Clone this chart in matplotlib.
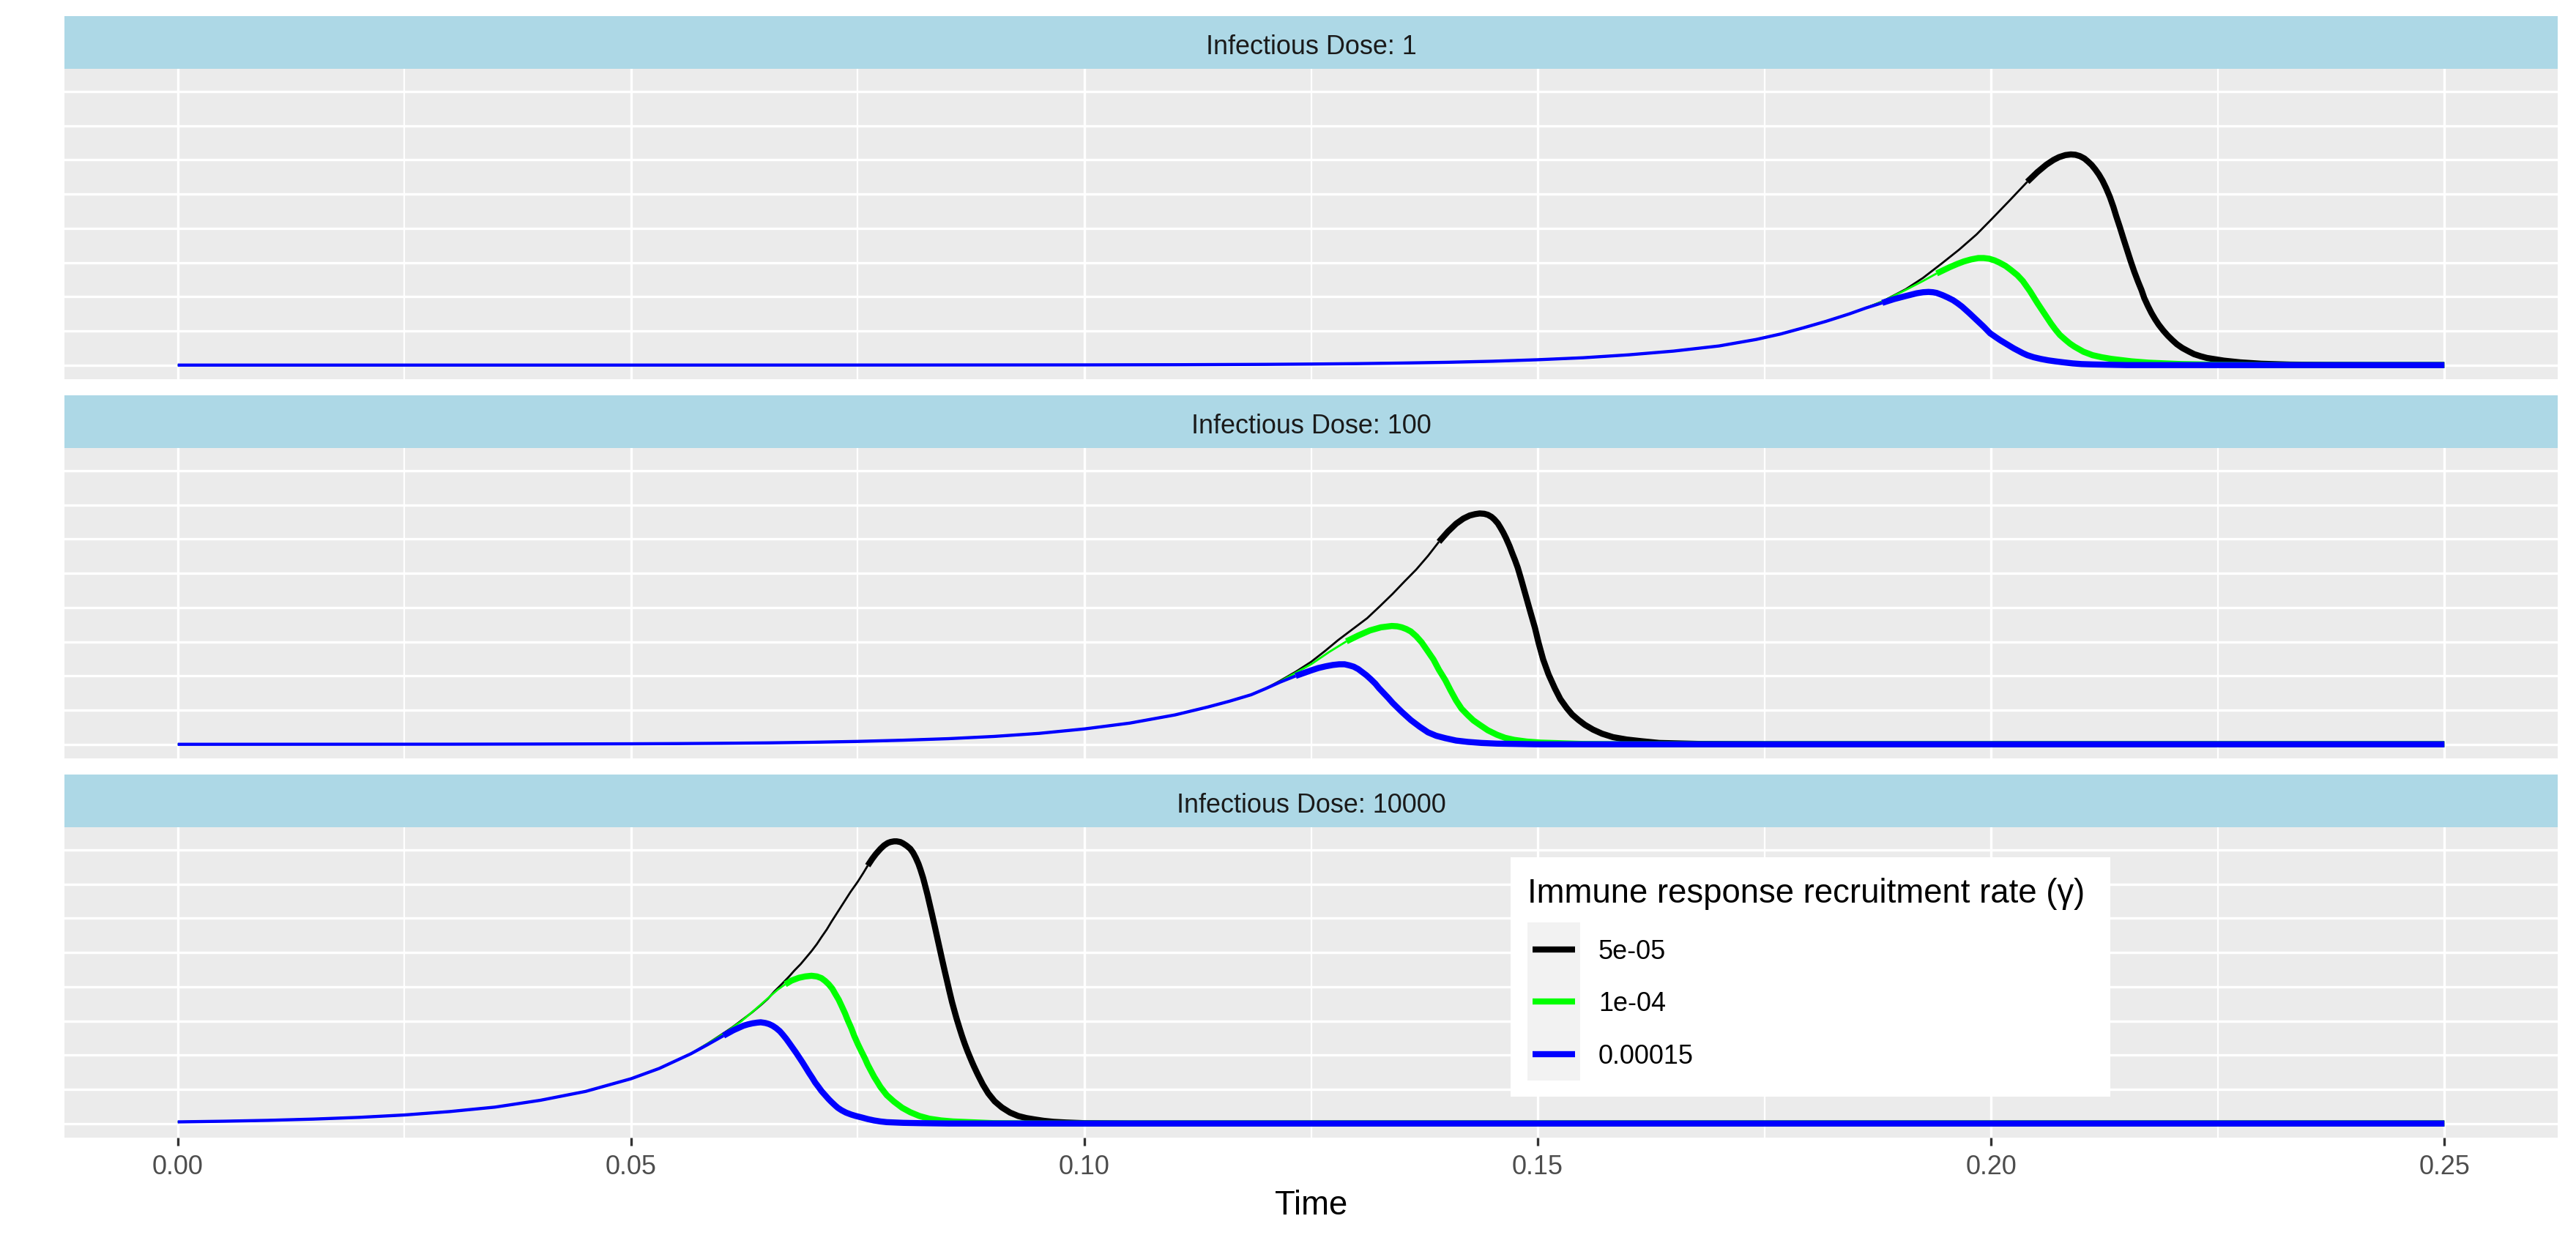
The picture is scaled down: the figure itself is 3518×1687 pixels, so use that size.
import matplotlib
matplotlib.use("Agg")
import matplotlib.pyplot as plt
from matplotlib.patches import Rectangle
from matplotlib.lines import Line2D

plt.rcParams['font.family'] = ['Liberation Sans', 'DejaVu Sans']

# ---------------- data ----------------
doses = ["1", "100", "10000"]
gamma_labels = ["5e-05", "1e-04", "0.00015"]
series_colors = ["#000000", "#00FF00", "#0000FF"]

x_ticks = [0.00, 0.05, 0.10, 0.15, 0.20, 0.25]
x_tick_labels = ["0.00", "0.05", "0.10", "0.15", "0.20", "0.25"]

# ---- Infectious dose 1 ----
dose1_early_t = [0.0, 0.05, 0.08, 0.10, 0.11, 0.12, 0.125, 0.13, 0.135, 0.14, 0.145, 0.15, 0.155, 0.16,
                 0.165, 0.17, 0.1741, 0.1768, 0.1793, 0.1818, 0.1844, 0.1862]
dose1_early_y = [0.0, 0.0005, 0.002, 0.006, 0.011, 0.022, 0.031, 0.043, 0.060, 0.082, 0.113, 0.157, 0.215, 0.30,
                 0.41, 0.56, 0.75, 0.91, 1.09, 1.28, 1.50, 1.67]

dose1_black_t = dose1_early_t + [0.188, 0.1906, 0.1925, 0.1947, 0.1965, 0.1984, 0.2, 0.202, 0.204, 0.2051, 0.2061,
                                 0.2069, 0.2075, 0.2082, 0.2088, 0.2093, 0.2098, 0.2103, 0.2107, 0.2111, 0.2115,
                                 0.2119, 0.2123, 0.2127, 0.2131, 0.2135, 0.2138, 0.2142, 0.2146, 0.215, 0.2154,
                                 0.2158, 0.2162, 0.2166, 0.2169, 0.2173, 0.2177, 0.2181, 0.2185, 0.219, 0.2195,
                                 0.22, 0.2205, 0.2211, 0.2218, 0.2224, 0.2231, 0.2238, 0.2245, 0.2257,
                                 0.2275, 0.2298, 0.233, 0.237, 0.242, 0.25]
dose1_black_y = dose1_early_y + [1.86, 2.22, 2.55, 3.00, 3.38, 3.82, 4.25, 4.80, 5.36, 5.64, 5.86,
                                 6.00, 6.08, 6.14, 6.16, 6.15, 6.11, 6.04, 5.95, 5.85, 5.72,
                                 5.57, 5.39, 5.17, 4.92, 4.62, 4.36, 4.04, 3.70, 3.37, 3.04,
                                 2.73, 2.45, 2.19, 1.96, 1.73, 1.52, 1.34, 1.18, 1.01, 0.86,
                                 0.73, 0.61, 0.50, 0.40, 0.32, 0.26, 0.21, 0.18, 0.13,
                                 0.08, 0.04, 0.015, 0.005, 0.0, 0.0]

dose1_green_t = dose1_early_t + [0.188, 0.1906, 0.1925, 0.194, 0.1955, 0.1963, 0.197, 0.1978, 0.1986, 0.1992,
                                 0.1998, 0.2004, 0.2009, 0.2016, 0.2022, 0.2029, 0.2035, 0.2043, 0.2051, 0.2056,
                                 0.2061, 0.2066, 0.2071, 0.2076, 0.2082, 0.2087, 0.2092, 0.2102, 0.2112, 0.2122,
                                 0.2133, 0.2155, 0.2174, 0.221, 0.225, 0.23, 0.25]
dose1_green_y = dose1_early_y + [1.86, 2.20, 2.46, 2.68, 2.87, 2.96, 3.03, 3.09, 3.13, 3.13,
                                 3.11, 3.06, 3.00, 2.90, 2.78, 2.63, 2.46, 2.16, 1.82, 1.62,
                                 1.42, 1.22, 1.04, 0.88, 0.74, 0.63, 0.54, 0.39, 0.29, 0.23,
                                 0.18, 0.11, 0.07, 0.03, 0.01, 0.0, 0.0]

dose1_blue_t = dose1_early_t + [0.188, 0.1893, 0.1906, 0.1918, 0.1925, 0.1931, 0.1936, 0.1940, 0.1947, 0.1952,
                                0.1958, 0.1963, 0.1968, 0.1976, 0.1984, 0.1992, 0.1999, 0.2005, 0.201, 0.2015,
                                0.202, 0.2025, 0.203, 0.2035, 0.204, 0.2047, 0.2055, 0.2063, 0.2071, 0.208,
                                0.209, 0.21, 0.2112, 0.215, 0.25]
dose1_blue_y = dose1_early_y + [1.82, 1.93, 2.02, 2.10, 2.13, 2.14, 2.13, 2.11, 2.04, 1.98,
                                1.90, 1.81, 1.71, 1.52, 1.32, 1.12, 0.93, 0.82, 0.73, 0.65,
                                0.57, 0.49, 0.42, 0.35, 0.29, 0.23, 0.18, 0.14, 0.11, 0.08,
                                0.05, 0.03, 0.02, 0.0, 0.0]

dose1_thick_from = [0.204, 0.194, 0.188]

# ---- Infectious dose 100 ----
dose100_early_t = [0.0, 0.03, 0.04, 0.05, 0.055, 0.06, 0.065, 0.07, 0.075, 0.08, 0.085, 0.09, 0.095, 0.10,
                   0.105, 0.11, 0.1136, 0.116, 0.1184, 0.12]
dose100_early_y = [0.0, 0.003, 0.008, 0.015, 0.021, 0.03, 0.042, 0.06, 0.085, 0.12, 0.165, 0.23, 0.32, 0.45,
                   0.62, 0.86, 1.09, 1.26, 1.45, 1.63]

dose100_black_t = dose100_early_t + [0.1216, 0.1233, 0.125, 0.1265, 0.128, 0.1296, 0.1312, 0.1326, 0.134, 0.1353,
                                     0.1366, 0.1379, 0.1391, 0.1401, 0.141, 0.1418, 0.1425, 0.1431, 0.1436, 0.1441,
                                     0.1445, 0.1449, 0.1452, 0.1456, 0.1459, 0.1462, 0.1465, 0.1469, 0.1472, 0.1475,
                                     0.1478, 0.1482, 0.1487, 0.1492, 0.1497, 0.1501, 0.1506, 0.1512, 0.1519, 0.1525,
                                     0.1532, 0.1538, 0.1545, 0.1552, 0.1561, 0.1571, 0.1583, 0.1598, 0.1615, 0.1634,
                                     0.168, 0.175, 0.25]
dose100_black_y = dose100_early_y + [1.86, 2.12, 2.41, 2.72, 3.05, 3.37, 3.69, 4.04, 4.40, 4.76,
                                     5.11, 5.51, 5.92, 6.22, 6.45, 6.60, 6.69, 6.73, 6.75, 6.74,
                                     6.71, 6.65, 6.58, 6.46, 6.33, 6.19, 6.03, 5.79, 5.58, 5.38,
                                     5.16, 4.80, 4.33, 3.86, 3.40, 2.96, 2.48, 2.04, 1.63, 1.32,
                                     1.06, 0.87, 0.71, 0.57, 0.43, 0.31, 0.21, 0.14, 0.09, 0.04,
                                     0.01, 0.0, 0.0]

dose100_green_t = dose100_early_t + [0.1216, 0.1233, 0.125, 0.127, 0.1289, 0.1302, 0.1315, 0.1327, 0.1339, 0.1345,
                                     0.135, 0.1355, 0.136, 0.1366, 0.1372, 0.1378, 0.1385, 0.1391, 0.1398, 0.1404,
                                     0.141, 0.1416, 0.1423, 0.1429, 0.1436, 0.1445, 0.1455, 0.1464, 0.1474, 0.1488,
                                     0.1503, 0.155, 0.16, 0.25]
dose100_green_y = dose100_early_y + [1.84, 2.09, 2.34, 2.70, 3.01, 3.18, 3.33, 3.42, 3.46, 3.45,
                                     3.42, 3.37, 3.30, 3.16, 2.98, 2.75, 2.48, 2.18, 1.88, 1.57,
                                     1.28, 1.04, 0.85, 0.70, 0.57, 0.41, 0.28, 0.19, 0.13, 0.08,
                                     0.05, 0.01, 0.0, 0.0]

dose100_blue_t = dose100_early_t + [0.1216, 0.1233, 0.125, 0.1258, 0.1266, 0.1274, 0.1281, 0.1287, 0.1292, 0.1297,
                                    0.1302, 0.1306, 0.1311, 0.1316, 0.1321, 0.1325, 0.133, 0.1335, 0.134, 0.1345,
                                    0.135, 0.1355, 0.136, 0.1365, 0.137, 0.1379, 0.1388, 0.1398, 0.141, 0.1423,
                                    0.1438, 0.1455, 0.15, 0.25]
dose100_blue_y = dose100_early_y + [1.82, 2.00, 2.16, 2.23, 2.28, 2.32, 2.34, 2.34, 2.31, 2.27,
                                    2.20, 2.12, 2.02, 1.90, 1.77, 1.64, 1.50, 1.36, 1.21, 1.08,
                                    0.95, 0.83, 0.71, 0.61, 0.51, 0.35, 0.25, 0.18, 0.11, 0.07,
                                    0.04, 0.02, 0.0, 0.0]

dose100_thick_from = [0.1391, 0.1289, 0.1233]

# ---- Infectious dose 10000 ----
dose10000_early_t = [0.0, 0.005, 0.01, 0.015, 0.02, 0.025, 0.03, 0.035, 0.04, 0.045, 0.05, 0.0531, 0.0566]
dose10000_early_y = [0.048, 0.067, 0.093, 0.13, 0.18, 0.25, 0.35, 0.48, 0.68, 0.94, 1.31, 1.61, 2.04]

dose10000_black_t = dose10000_early_t + [0.0584, 0.0602, 0.0612, 0.0622, 0.0633, 0.0643, 0.0651, 0.0658, 0.0666, 0.0674,
                                         0.068, 0.0687, 0.0693, 0.0699, 0.0705, 0.071, 0.0716, 0.0721, 0.0728, 0.0735,
                                         0.0742, 0.075, 0.0756, 0.0761, 0.0766, 0.077, 0.0775, 0.0779, 0.0783, 0.0786,
                                         0.079, 0.0793, 0.0797, 0.08, 0.0804, 0.0808, 0.0811, 0.0814, 0.0817, 0.0819,
                                         0.0822, 0.0824, 0.0827, 0.0829, 0.0832, 0.0835, 0.0837, 0.084, 0.0843, 0.0846,
                                         0.0849, 0.0851, 0.0854, 0.0857, 0.0859, 0.0862, 0.0865, 0.0868, 0.0871, 0.0873,
                                         0.0876, 0.0878, 0.0881, 0.0883, 0.0888, 0.0894, 0.0901, 0.0909, 0.0918, 0.0927,
                                         0.0936, 0.0945, 0.0955, 0.0966, 0.098, 0.1, 0.105, 0.25]
dose10000_black_y = dose10000_early_y + [2.33, 2.64, 2.82, 3.02, 3.24, 3.46, 3.65, 3.86, 4.07, 4.29,
                                         4.47, 4.66, 4.85, 5.04, 5.25, 5.45, 5.68, 5.90, 6.19, 6.48,
                                         6.77, 7.07, 7.32, 7.54, 7.74, 7.88, 8.03, 8.13, 8.20, 8.23,
                                         8.25, 8.25, 8.23, 8.19, 8.12, 8.03, 7.92, 7.77, 7.59, 7.44,
                                         7.19, 6.99, 6.68, 6.45, 6.11, 5.76, 5.52, 5.16, 4.80, 4.45,
                                         4.11, 3.88, 3.55, 3.26, 3.07, 2.81, 2.56, 2.33, 2.12, 1.99,
                                         1.80, 1.68, 1.51, 1.40, 1.14, 0.88, 0.65, 0.47, 0.32, 0.22,
                                         0.16, 0.12, 0.08, 0.05, 0.03, 0.01, 0.0, 0.0]

dose10000_green_t = dose10000_early_t + [0.0584, 0.0602, 0.0612, 0.0622, 0.063, 0.0638, 0.0647, 0.0655, 0.0662, 0.067,
                                         0.0677, 0.0685, 0.0692, 0.0699, 0.0705, 0.071, 0.0714, 0.0718, 0.0722, 0.0725,
                                         0.0729, 0.0732, 0.0736, 0.0739, 0.0743, 0.0746, 0.075, 0.0754, 0.0758, 0.0761,
                                         0.0765, 0.0768, 0.0772, 0.0775, 0.0782, 0.079, 0.0799, 0.0808, 0.0818, 0.0829,
                                         0.0842, 0.0855, 0.09, 0.095, 0.25]
dose10000_green_y = dose10000_early_y + [2.33, 2.62, 2.81, 3.00, 3.18, 3.36, 3.57, 3.76, 3.92, 4.07,
                                         4.18, 4.26, 4.30, 4.32, 4.30, 4.25, 4.17, 4.07, 3.94, 3.80,
                                         3.62, 3.45, 3.22, 3.02, 2.78, 2.57, 2.33, 2.11, 1.90, 1.72,
                                         1.52, 1.37, 1.20, 1.07, 0.83, 0.64, 0.46, 0.33, 0.22, 0.14,
                                         0.09, 0.06, 0.01, 0.0, 0.0]

dose10000_blue_t = dose10000_early_t + [0.0584, 0.0602, 0.0613, 0.0624, 0.0629, 0.0634, 0.0639, 0.0643, 0.0648, 0.0652,
                                        0.0656, 0.066, 0.0664, 0.0667, 0.0671, 0.0674, 0.0678, 0.0682, 0.0686, 0.0689,
                                        0.0693, 0.0696, 0.07, 0.0703, 0.0707, 0.071, 0.0714, 0.0718, 0.0721, 0.0725,
                                        0.0728, 0.0732, 0.0737, 0.0743, 0.0748, 0.0754, 0.0761, 0.0768, 0.0775, 0.0782,
                                        0.08, 0.082, 0.085, 0.25]
dose10000_blue_y = dose10000_early_y + [2.30, 2.57, 2.73, 2.86, 2.90, 2.93, 2.95, 2.96, 2.94, 2.91,
                                        2.86, 2.79, 2.70, 2.61, 2.48, 2.37, 2.22, 2.07, 1.91, 1.79,
                                        1.62, 1.49, 1.33, 1.20, 1.06, 0.95, 0.83, 0.71, 0.63, 0.53,
                                        0.46, 0.39, 0.32, 0.26, 0.22, 0.18, 0.13, 0.09, 0.06, 0.04,
                                        0.02, 0.01, 0.0, 0.0]

dose10000_thick_from = [0.0761, 0.067, 0.0602]

panels = [
    (doses[0], [(dose1_black_t, dose1_black_y), (dose1_green_t, dose1_green_y), (dose1_blue_t, dose1_blue_y)], dose1_thick_from),
    (doses[1], [(dose100_black_t, dose100_black_y), (dose100_green_t, dose100_green_y), (dose100_blue_t, dose100_blue_y)], dose100_thick_from),
    (doses[2], [(dose10000_black_t, dose10000_black_y), (dose10000_green_t, dose10000_green_y), (dose10000_blue_t, dose10000_blue_y)], dose10000_thick_from),
]

# ---------------- styling / layout ----------------
W, H = 3518, 1687
DPI = 200
PANEL_BG = "#EBEBEB"
STRIP_BG = "#ADD8E6"
thin_lw = [1.0, 1.0, 1.55]
thick_lw = 3.0
FS_SMALL = 12.96
FS_BIG = 16.4

fig = plt.figure(figsize=(W / DPI, H / DPI), dpi=DPI)
fig.patch.set_facecolor("white")


def fx(px):
    return px / W


def fy(py):
    return 1 - py / H


left_px, right_px = 88, 3493
strip_h, panel_h, gap = 72, 424, 22
y_max_data = max(dose10000_black_y)
ylim = (-0.05 * y_max_data, 1.05 * y_max_data)

top = 22
axes = []
for i, (dose, series, thick_from) in enumerate(panels):
    strip_top = top
    panel_top = strip_top + strip_h
    panel_bot = panel_top + panel_h
    # strip
    sax = fig.add_axes([fx(left_px), fy(panel_top), (right_px - left_px) / W, strip_h / H])
    sax.set_facecolor(STRIP_BG)
    sax.set_xticks([])
    sax.set_yticks([])
    for s in sax.spines.values():
        s.set_visible(False)
    fig.text(fx((left_px + right_px) / 2), fy(strip_top + 51.6), f"Infectious Dose: {dose}",
             ha="center", va="baseline", fontsize=FS_SMALL, color="#1A1A1A")
    # panel
    ax = fig.add_axes([fx(left_px), fy(panel_bot), (right_px - left_px) / W, panel_h / H])
    ax.set_facecolor(PANEL_BG)
    for s in ax.spines.values():
        s.set_visible(False)
    ax.set_xlim(-0.0125, 0.2625)
    ax.set_ylim(*ylim)
    ax.set_xticks(x_ticks)
    ax.set_xticks([0.025, 0.075, 0.125, 0.175, 0.225], minor=True)
    ax.set_yticks(list(range(0, 9)))
    ax.set_yticklabels([])
    ax.tick_params(axis="y", length=0)
    ax.tick_params(axis="x", which="minor", length=0)
    ax.set_axisbelow(True)
    ax.grid(which="major", color="white", linewidth=1.2)
    ax.grid(which="minor", axis="x", color="white", linewidth=0.8)
    if i < 2:
        ax.tick_params(axis="x", which="major", length=0, labelbottom=False)
    else:
        ax.set_xticklabels(x_tick_labels)
        ax.tick_params(axis="x", which="major", length=3.96, width=1.2, color="#333333",
                       pad=4.2, labelsize=FS_SMALL, labelcolor="#4D4D4D")
        ax.set_xlabel("Time", fontsize=FS_BIG, color="black", labelpad=4.7)

    for j, ((t, y), col) in enumerate(zip(series, series_colors)):
        k = next(n for n, v in enumerate(t) if v >= thick_from[j] - 1e-9)
        ax.plot(t[:k + 1], y[:k + 1], color=col, lw=thin_lw[j], solid_joinstyle="round",
                solid_capstyle="butt", zorder=3)
        ax.plot(t[k:], y[k:], color=col, lw=thick_lw, solid_joinstyle="round",
                solid_capstyle="butt", zorder=3)
    axes.append(ax)
    top = panel_bot + gap

# ---------------- legend (inside bottom panel) ----------------
fig.add_artist(Rectangle((fx(2063), fy(1498)), (2882 - 2063) / W, (1498 - 1171) / H,
                         transform=fig.transFigure, facecolor="white", edgecolor="none", zorder=5))
fig.add_artist(Rectangle((fx(2086), fy(1476)), (2158 - 2086) / W, (1476 - 1260) / H,
                         transform=fig.transFigure, facecolor="#F2F2F2", edgecolor="none", zorder=6))
fig.text(fx(2086), fy(1233), "Immune response recruitment rate (\u03b3)", ha="left", va="baseline",
         fontsize=FS_BIG, color="black", zorder=7)
key_y = [1297, 1368, 1440]
for lab, col, ky in zip(gamma_labels, series_colors, key_y):
    fig.add_artist(Line2D([fx(2093), fx(2151)], [fy(ky), fy(ky)], transform=fig.transFigure,
                          color=col, lw=thick_lw, solid_capstyle="butt", zorder=7))
    fig.text(fx(2183), fy(ky + 12.9), lab, ha="left", va="baseline", fontsize=FS_SMALL,
             color="black", zorder=7)

fig.savefig("out.png", dpi=DPI, facecolor="white")
